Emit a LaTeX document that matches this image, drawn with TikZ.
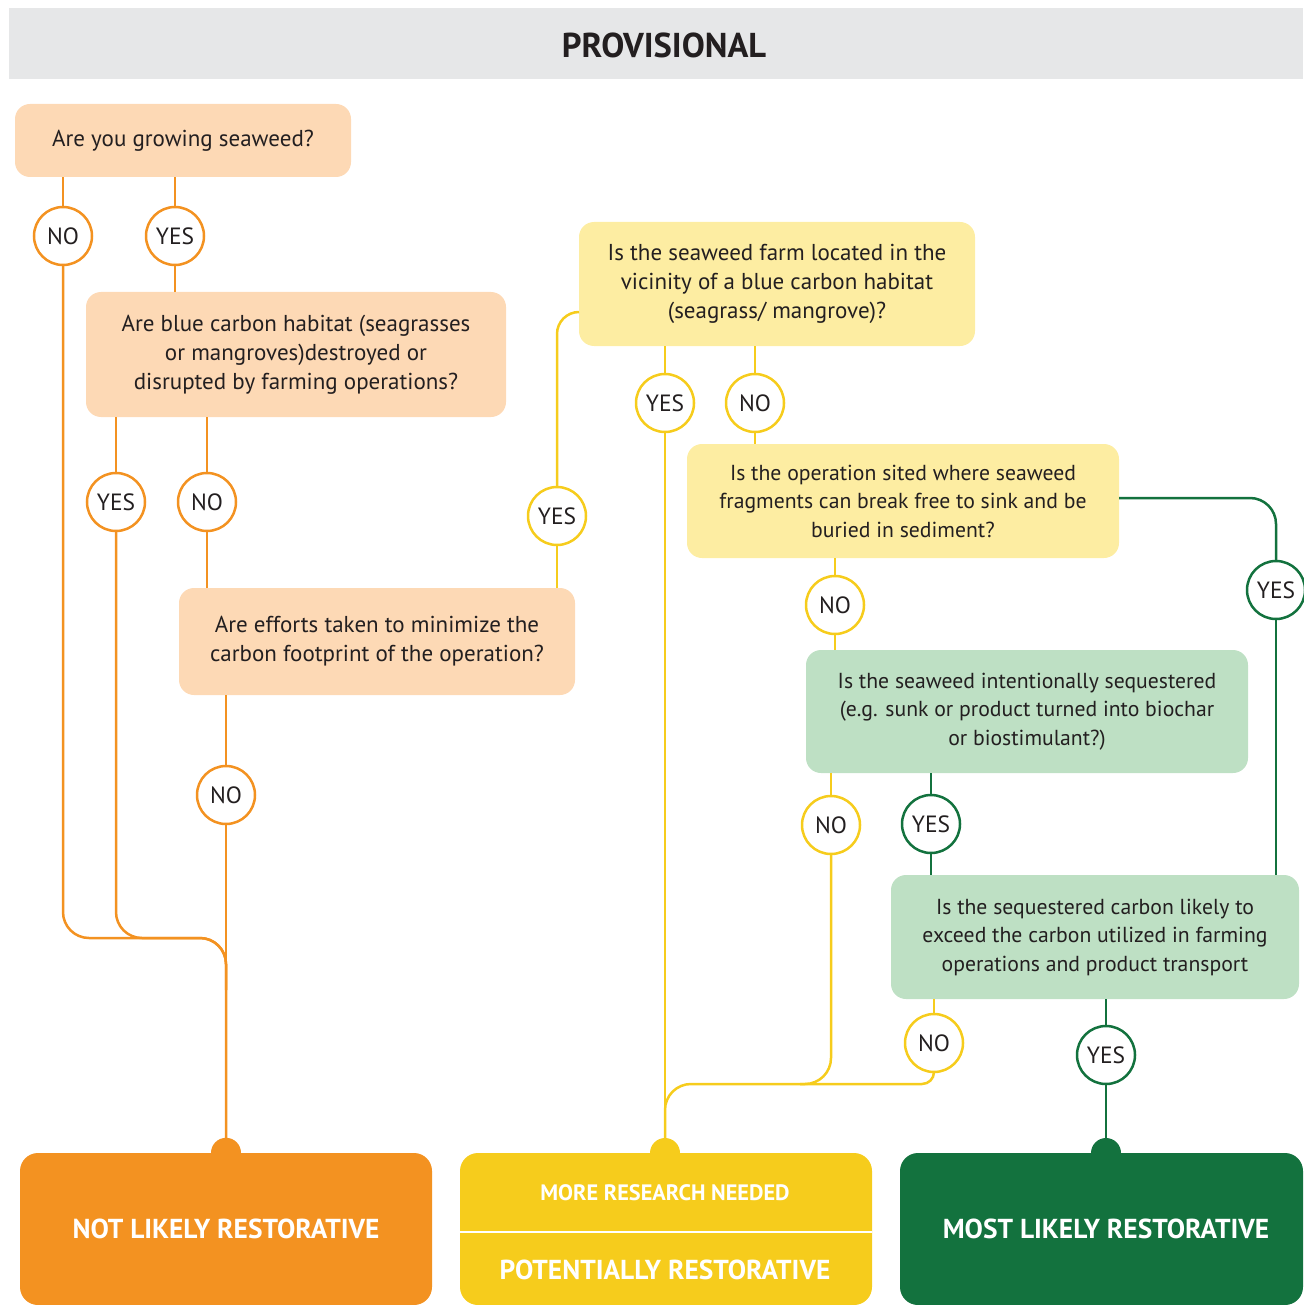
\documentclass[tikz,border=0pt]{standalone}
\usepackage{fontspec}
\setmainfont{PT Sans}
\definecolor{peach}{HTML}{FDD9B5}
\definecolor{lyel}{HTML}{FDEDA2}
\definecolor{lgrn}{HTML}{BEE0C4}
\definecolor{oran}{HTML}{F39221}
\definecolor{yel}{HTML}{F6CC1C}
\definecolor{grn}{HTML}{13723E}
\definecolor{hdr}{HTML}{E6E7E8}
\definecolor{txt}{HTML}{231F20}
\begin{document}
\begin{tikzpicture}[x=1pt,y=-1pt,
  qbox/.style={rectangle, rounded corners=15pt, align=center, text=txt, inner sep=0pt,
    font=\fontsize{23}{29}\selectfont},
  qboxn/.style={qbox, font=\fontsize{21.7}{28.5}\selectfont},
  ans/.style={circle, draw=#1, line width=2.5pt, fill=white, minimum size=58pt, inner sep=0pt,
    text=txt, font=\fontsize{23.5}{25}\selectfont},
  oline/.style={draw=oran, line width=2.5pt},
  yline/.style={draw=yel, line width=2.5pt},
  gline/.style={draw=grn, line width=2.5pt},
  res/.style={rectangle, rounded corners=18pt, text=white, inner sep=0pt, align=center,
    font=\fontsize{27.4}{30}\selectfont\bfseries},
  restxt/.style={text=white, inner sep=0pt, font=\fontsize{27.4}{30}\selectfont\bfseries},
]
\useasboundingbox (0,0) rectangle (1303,1305);
% header
\fill[hdr] (9,8) rectangle (1303,79);
\node[text=txt, font=\fontsize{34.5}{34.5}\selectfont\bfseries] (head) at (664,45) {PROVISIONAL};

% question boxes
\node[qbox, fill=peach, minimum width=336pt, minimum height=73pt] (A) at (183,140.5) {Are you growing seaweed?};
\node[qbox, fill=peach, minimum width=420pt, minimum height=125pt] (B) at (296,354.5)
  {Are blue carbon habitat (seagrasses\\or mangroves)destroyed or\\disrupted by farming operations?};
\node[qbox, fill=peach, minimum width=396pt, minimum height=107pt] (D) at (377,641.5)
  {Are efforts taken to minimize the\\carbon footprint of the operation?};
\node[qbox, fill=lyel, minimum width=396pt, minimum height=124pt] (C) at (777,284)
  {Is the seaweed farm located in the\\vicinity of a blue carbon habitat\\(seagrass/ mangrove)?};
\node[qboxn, fill=lyel, minimum width=432pt, minimum height=114pt] (E) at (903,501)
  {Is the operation sited where seaweed\\fragments can break free to sink and be\\buried in sediment?};
\node[qboxn, fill=lgrn, minimum width=442pt, minimum height=123pt] (F) at (1027,711.5)
  {Is the seaweed intentionally sequestered\\(e.g. sunk or product turned into biochar\\or biostimulant?)};
\node[qboxn, fill=lgrn, minimum width=408pt, minimum height=124pt] (G) at (1095,937)
  {Is the sequestered carbon likely to\\exceed the carbon utilized in farming\\operations and product transport};

% result boxes
\node[res, fill=oran, minimum width=412pt, minimum height=152pt] (NotL) at (226,1229) {NOT LIKELY RESTORATIVE};
\node[res, fill=yel, minimum width=412pt, minimum height=152pt] (More) at (666,1229) {};
\node[res, fill=grn, minimum width=403pt, minimum height=152pt] (Most) at (1101.5,1229) {};
\node[restxt] (mostT) at (1106,1229) {MOST LIKELY RESTORATIVE};
\draw[white, line width=2pt] (More.west |- 0,1232) -- (More.east |- 0,1232);
\node[restxt, font=\fontsize{22.3}{24}\selectfont\bfseries] (moreT) at (665,1193) {MORE RESEARCH NEEDED};
\node[restxt] (potT) at (665,1270) {POTENTIALLY RESTORATIVE};

% merge coordinates
\coordinate (mO) at (226,938);
\coordinate (mY) at (665,1084);
\coordinate (cIn) at (579,312);

% orange connectors
\draw[oline] (A.south -| 63,0) -- (63,206);
\draw[oline] (A.south -| 175,0) -- (175,206);
\draw[oline] (175,266) -- (B.north -| 175,0);
\draw[oline, rounded corners=26pt] (63,266) -- (63,938) -- (mO) -- (NotL.north);
\draw[oline] (B.south -| 116,0) -- (116,472);
\draw[oline] (B.south -| 207,0) -- (207,472);
\draw[oline, rounded corners=26pt] (116,532) -- (116,938) -- (mO) -- (226,990);
\draw[oline] (207,532) -- (D.north -| 207,0);
\draw[oline] (D.south -| 226,0) -- (226,765);
\draw[oline] (226,825) -- (NotL.north);
% yellow connectors
\draw[yline] (D.north -| 557,0) -- (557,546);
\draw[yline, rounded corners=22pt] (557,486) -- (557,312) -- (cIn);
\draw[yline] (C.south -| 665,0) -- (665,373);
\draw[yline] (C.south -| 755,0) -- (755,373);
\draw[yline] (665,433) -- (665,1153);
\draw[yline] (755,433) -- (E.north -| 755,0);
\draw[yline] (E.south -| 835,0) -- (835,575);
\draw[yline] (835,635) -- (F.north -| 835,0);
\draw[yline] (F.south -| 831,0) -- (831,795);
\draw[yline, rounded corners=26pt] (831,855) -- (831,1084) -- (mY) -- (665,1140);
\draw[yline] (G.south -| 934,0) -- (934,1013);
\draw[yline, rounded corners=12pt] (934,1073) -- (934,1084) -- (800,1084);
% green connectors
\draw[gline, rounded corners=26pt] (E.east |- 0,498) -- (1276,498) -- (1276,560);
\draw[gline] (1276,620) -- (G.north -| 1276,0);
\draw[gline] (F.south -| 931,0) -- (931,794);
\draw[gline] (931,854) -- (G.north -| 931,0);
\draw[gline] (G.south -| 1106,0) -- (1106,1025);
\draw[gline] (1106,1085) -- (1106,1153);

% dots
\fill[oran] (NotL.north) circle (15pt);
\fill[yel] (665,1153) circle (15pt);
\fill[grn] (1106,1153) circle (15pt);

% answer circles
\node[ans=oran] (NO1) at (63,236) {NO};
\node[ans=oran] (YES1) at (175,236) {YES};
\node[ans=oran] (YES2) at (116,502) {YES};
\node[ans=oran] (NO2) at (207,502) {NO};
\node[ans=oran] (NO4) at (226,795) {NO};
\node[ans=yel] (YES3) at (557,516) {YES};
\node[ans=yel] (YES5) at (665,403) {YES};
\node[ans=yel] (NO5) at (755,403) {NO};
\node[ans=yel] (NO6) at (835,605) {NO};
\node[ans=grn] (YES6) at (1276,590) {YES};
\node[ans=yel] (NO7) at (831,825) {NO};
\node[ans=grn] (YES7) at (931,824) {YES};
\node[ans=yel] (NO8) at (934,1043) {NO};
\node[ans=grn] (YES8) at (1106,1055) {YES};
\end{tikzpicture}
\end{document}
